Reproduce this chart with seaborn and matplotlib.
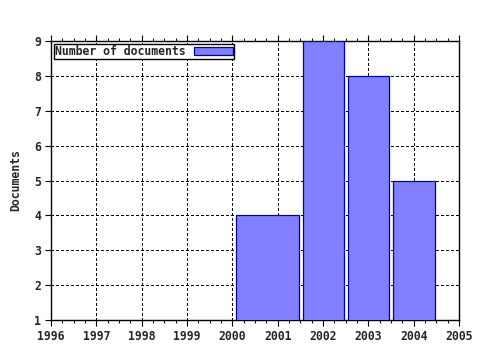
import matplotlib
matplotlib.use("Agg")
import matplotlib.pyplot as plt
import seaborn as sns
from matplotlib.ticker import AutoMinorLocator

# Data
bar_start = [2000.08, 2001.55, 2002.55, 2003.55]
bar_end = [2001.46, 2002.46, 2003.46, 2004.46]
doc_counts = [4, 9, 8, 5]
year_ticks = list(range(1996, 2006))
count_ticks = list(range(1, 10))
series_label = "Number of documents"
y_label = "Documents"

sns.set_style("ticks")
plt.rcParams["font.family"] = ["DejaVu Sans Mono", "DejaVu Sans"]
plt.rcParams["font.weight"] = "bold"

FS = 8.3

fig = plt.figure(figsize=(4.8, 3.5), dpi=100)
ax = fig.add_axes([51/480, 1 - 320/350, 408/480, 279/350])

widths = [e - s for s, e in zip(bar_start, bar_end)]
ax.bar(bar_start, doc_counts, width=widths, align="edge", bottom=0,
       color="#8080ff", edgecolor="#0000a8", linewidth=0.9,
       label=series_label, zorder=3)

ax.set_xlim(year_ticks[0], year_ticks[-1])
ax.set_ylim(count_ticks[0], count_ticks[-1])
ax.set_xticks(year_ticks)
ax.set_yticks(count_ticks)
ax.xaxis.set_minor_locator(AutoMinorLocator(4))

ax.grid(True, which="major", color="black", linestyle=(0, (2.5, 2.5)),
        linewidth=0.72, zorder=1, antialiased=False)
ax.set_axisbelow(True)

for sp in ax.spines.values():
    sp.set_visible(True)
    sp.set_color("black")
    sp.set_linewidth(1.0)

ax.tick_params(axis="x", which="major", direction="out", length=4, width=0.8,
               labelsize=FS, pad=3, top=True, color="black")
ax.tick_params(axis="x", which="minor", direction="out", length=2, width=0.7,
               top=True, color="black")
ax.tick_params(axis="y", which="major", direction="out", length=4, width=0.8,
               labelsize=FS, pad=3, color="black")
for lbl in ax.get_xticklabels() + ax.get_yticklabels():
    lbl.set_fontweight("bold")

ax.set_ylabel(y_label, fontsize=FS, fontweight="bold", labelpad=9)

leg = ax.legend(loc="upper left", markerfirst=False, frameon=True,
                fancybox=False, framealpha=1, edgecolor="black",
                prop={"size": FS, "weight": "bold"},
                borderpad=0.1, handlelength=3.4, handleheight=0.6,
                handletextpad=0.7, borderaxespad=0.25)
leg.get_frame().set_linewidth(1.0)

fig.savefig("out.png", dpi=100)
